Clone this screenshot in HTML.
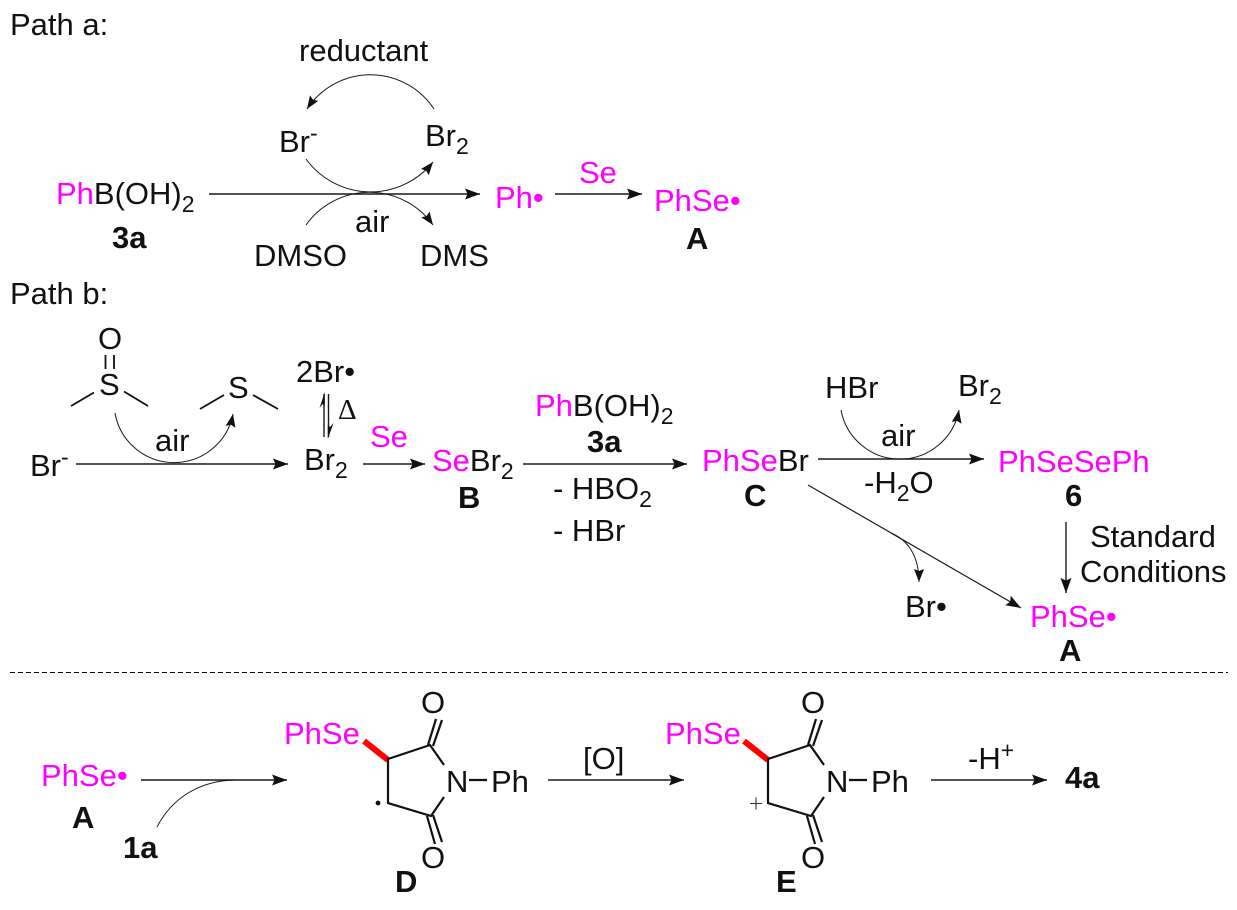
<!DOCTYPE html>
<html><head><meta charset="utf-8"><style>
html,body{margin:0;padding:0;background:#fff}
svg{display:block}
text{font-family:"Liberation Sans",sans-serif;font-size:31px;fill:#111}
.b{font-weight:bold}
.m{fill:#ff00ff}
.s{font-size:23px}
.l{fill:none;stroke:#1a1a1a;stroke-width:1.4}
.t{fill:none;stroke:#1a1a1a;stroke-width:1}
.n{fill:none;stroke:#111;stroke-width:2.2}
.r{stroke:#ff0000;stroke-width:6;fill:none}
</style></head><body>
<svg width="1237" height="910" viewBox="0 0 1237 910" xmlns="http://www.w3.org/2000/svg">
<defs>
<marker id="a" markerUnits="userSpaceOnUse" markerWidth="20" markerHeight="14" refX="15" refY="7" orient="auto"><path d="M0,1.5 L15,7 L0,12.5 L2.5,7 Z" fill="#111"/></marker>
<marker id="c" markerUnits="userSpaceOnUse" markerWidth="16" markerHeight="12" refX="13" refY="6" orient="auto"><path d="M0,1 L13,6 L0,11 L2,6 Z" fill="#111"/></marker>
</defs>

<!-- Path a -->
<text x="10" y="35">Path a:</text>
<text x="299" y="61">reductant</text>
<text x="279" y="152">Br<tspan class="s" dy="-11">-</tspan></text>
<text x="425" y="146">Br<tspan class="s" dy="8">2</tspan></text>
<text x="56" y="204"><tspan class="m">Ph</tspan>B(OH)<tspan class="s" dy="8">2</tspan></text>
<text class="b" x="112" y="248">3a</text>
<text x="254" y="266">DMSO</text>
<text x="420" y="266">DMS</text>
<text x="355" y="232">air</text>
<text class="m" x="495" y="208">Ph•</text>
<text class="m" x="579" y="183">Se</text>
<text class="m" x="654" y="211">PhSe•</text>
<text class="b" x="686" y="249">A</text>
<path class="l" d="M209,194 H480" marker-end="url(#a)"/>
<path class="l" d="M555,194 H642" marker-end="url(#a)"/>
<path class="t" d="M434,109 A76,76 0 0 0 307,109" marker-end="url(#c)"/>
<path class="t" d="M306,159 A80,80 0 0 0 433,162" marker-end="url(#c)"/>
<path class="t" d="M306,225 A78,78 0 0 1 433,225" marker-end="url(#c)"/>

<!-- Path b -->
<text x="10" y="304">Path b:</text>
<text x="98" y="349">O</text>
<text x="99" y="395">S</text>
<text x="228" y="398">S</text>
<path class="t" style="stroke-width:1.8;stroke:#111" d="M105.5,355 V369 M114,355 V369 M71,406 L94,392.5 M124,391.5 L148,406 M200,409 L224,395 M253,395 L278,409"/>
<text x="30" y="476">Br<tspan class="s" dy="-11">-</tspan></text>
<path class="l" d="M76,464 H288" marker-end="url(#a)"/>
<path class="t" d="M115,413 A60,60 0 0 0 233,414" marker-end="url(#c)"/>
<text x="155" y="451">air</text>
<text x="296" y="382">2Br•</text>
<text x="304" y="470">Br<tspan class="s" dy="8">2</tspan></text>
<path class="l" d="M324,437 V394 M328.5,394 V437"/>
<path d="M324.8,392 L324.8,406 L322.5,404 L319.5,408 Z" fill="#111"/>
<path d="M327.8,439 L327.8,425 L330,427 L333.5,423 Z" fill="#111"/>
<text x="338" y="419" style="font-size:29px;font-family:'Liberation Serif',serif">Δ</text>
<text class="m" x="370" y="447">Se</text>
<path class="l" d="M363,464 H425" marker-end="url(#a)"/>
<text x="432" y="471"><tspan class="m">Se</tspan>Br<tspan class="s" dy="8">2</tspan></text>
<text class="b" x="458" y="508">B</text>
<text x="535" y="416"><tspan class="m">Ph</tspan>B(OH)<tspan class="s" dy="8">2</tspan></text>
<text class="b" x="587" y="452">3a</text>
<path class="l" d="M523,464 H687" marker-end="url(#a)"/>
<text x="553" y="499">- HBO<tspan class="s" dy="8">2</tspan></text>
<text x="553" y="541">- HBr</text>
<text x="702" y="471"><tspan class="m">PhSe</tspan>Br</text>
<text class="b" x="744" y="506">C</text>
<text x="825" y="398">HBr</text>
<text x="958" y="396">Br<tspan class="s" dy="8">2</tspan></text>
<path class="t" d="M841,410 A60,60 0 0 0 959,410" marker-end="url(#c)"/>
<text x="881" y="446">air</text>
<path class="l" d="M818,459 H984" marker-end="url(#a)"/>
<text x="864" y="493">-H<tspan class="s" dy="8">2</tspan><tspan dy="-8">O</tspan></text>
<text class="m" x="998" y="472">PhSeSePh</text>
<text class="b" x="1065" y="506">6</text>
<path class="l" d="M1066,522 V593" marker-end="url(#a)"/>
<text x="1090" y="547">Standard</text>
<text x="1080" y="582">Conditions</text>
<path class="t" d="M808,485 L1021,608" marker-end="url(#a)" style="stroke-width:1.2"/>
<path class="t" d="M891,533 C908,540 919,556 919,582" marker-end="url(#c)"/>
<text x="905" y="617">Br•</text>
<text class="m" x="1030" y="627">PhSe•</text>
<text class="b" x="1059" y="661">A</text>

<path d="M10,672.5 H1228" stroke="#000" stroke-width="1" stroke-dasharray="5 3" fill="none"/>

<!-- Bottom row -->
<text class="m" x="41" y="786">PhSe•</text>
<text class="b" x="72" y="828">A</text>
<text class="b" x="123" y="858">1a</text>
<path class="l" d="M141,780 H287" marker-end="url(#a)"/>
<path class="t" d="M157,827 C172,798 200,780 237,780"/>

<text class="m" x="284" y="744">PhSe</text>
<path class="r" d="M364,741 L388,760"/>
<path class="n" d="M444,765 L430,745 L388,759 V803 L431,816 L444,797"/>
<path class="n" d="M428,745 L436,719 M433,746 L442,720 M427,816 L435,844 M433,815 L442,842 M469,780 H487"/>
<text x="421" y="713">O</text>
<text x="421" y="868">O</text>
<text x="446" y="792">N</text>
<text x="491" y="792">Ph</text>
<circle cx="378" cy="803" r="2.4" fill="#111"/>
<text class="b" x="395" y="892">D</text>

<text x="583" y="769">[O]</text>
<path class="l" d="M548,780 H684" marker-end="url(#a)"/>

<text class="m" x="665" y="744">PhSe</text>
<path class="r" d="M744,741 L768,760"/>
<path class="n" d="M824,765 L810,745 L768,759 V803 L811,816 L824,797"/>
<path class="n" d="M808,745 L816,719 M813,746 L822,720 M807,816 L815,844 M813,815 L822,842 M849,780 H867"/>
<text x="801" y="713">O</text>
<text x="801" y="868">O</text>
<text x="826" y="792">N</text>
<text x="871" y="792">Ph</text>
<path d="M750,803.5 H762 M756,797.5 V809.5" stroke="#333" stroke-width="1.1" fill="none"/>
<text class="b" x="776" y="892">E</text>

<text x="968" y="769">-H<tspan class="s" dy="-11">+</tspan></text>
<path class="l" d="M931,780 H1047" marker-end="url(#a)"/>
<text class="b" x="1065" y="788">4a</text>
</svg>
</body></html>
